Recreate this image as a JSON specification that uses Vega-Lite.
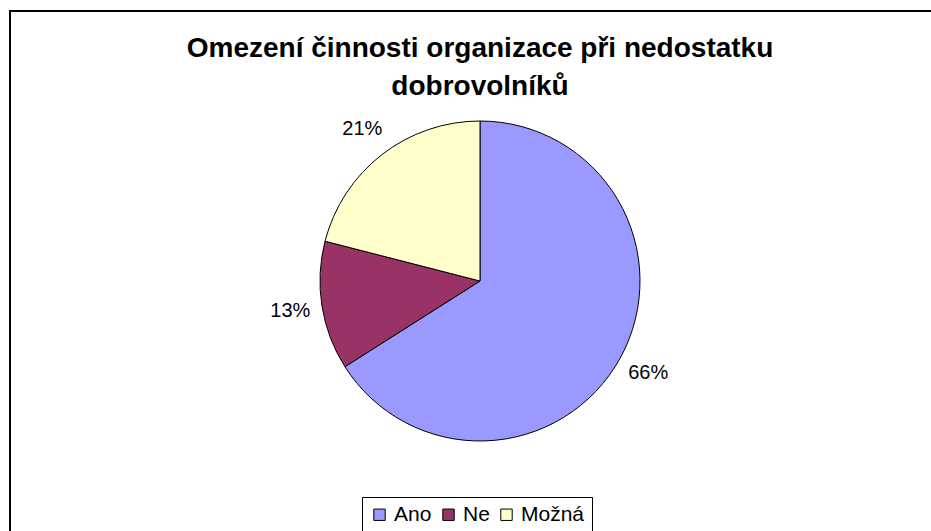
{
  "$schema": "https://vega.github.io/schema/vega-lite/v6.json",
  "autosize": {"type": "none"},
  "padding": {"left": 10, "top": 11, "right": 0, "bottom": 0},
  "width": 940,
  "height": 540,
  "background": "white",
  "view": {"stroke": "black", "strokeWidth": 2, "fill": "white"},
  "config": {
    "font": "Liberation Sans"
  },
  "title": {
    "text": ["Omezení činnosti organizace při nedostatku", "dobrovolníků"],
    "font": "Liberation Sans",
    "fontSize": 28,
    "fontWeight": "bold",
    "color": "black",
    "lineHeight": 38,
    "anchor": "middle",
    "frame": "group",
    "offset": -90
  },
  "data": {
    "values": [
      {"category": "Ano", "value": 66, "label": "66%", "order": 1},
      {"category": "Ne", "value": 13, "label": "13%", "order": 2},
      {"category": "Možná", "value": 21, "label": "21%", "order": 3}
    ]
  },
  "encoding": {
    "theta": {"field": "value", "type": "quantitative", "stack": true},
    "order": {"field": "order", "type": "quantitative"}
  },
  "layer": [
    {
      "mark": {"type": "arc", "outerRadius": 160, "stroke": "black", "strokeWidth": 1},
      "encoding": {
        "color": {
          "field": "category",
          "type": "nominal",
          "sort": ["Ano", "Ne", "Možná"],
          "scale": {"domain": ["Ano", "Ne", "Možná"], "range": ["#9999FF", "#993366", "#FFFFCC"]},
          "legend": {
            "title": null,
            "orient": "none",
            "direction": "horizontal",
            "legendX": 352,
            "legendY": 486,
            "symbolType": "square",
            "symbolSize": 130,
            "symbolStrokeColor": "black",
            "symbolStrokeWidth": 1,
            "labelFont": "Liberation Sans",
            "labelFontSize": 21,
            "labelColor": "black",
            "columnPadding": 6,
            "labelOffset": 4,
            "strokeColor": "black",
            "padding": 7
          }
        }
      }
    },
    {
      "mark": {"type": "text", "radius": 192, "font": "Liberation Sans", "fontSize": 20, "color": "black"},
      "encoding": {
        "text": {"field": "label", "type": "nominal"}
      }
    }
  ]
}
